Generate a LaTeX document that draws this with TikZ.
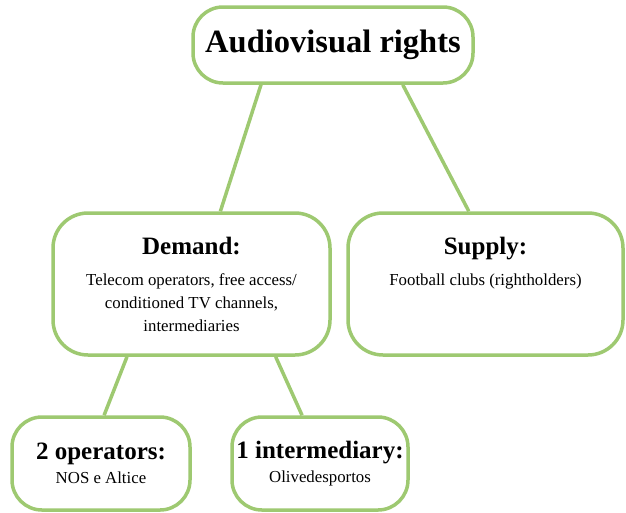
\documentclass[tikz,border=0pt]{standalone}
\usepackage{fontspec}
\setmainfont{Liberation Serif}
\usetikzlibrary{shapes,calc}
\definecolor{boxgreen}{RGB}{158,201,113}
\newcommand{\headtxt}[1]{{\fontsize{25}{28}\selectfont\bfseries #1}}

\begin{document}
\begin{tikzpicture}[x=1pt,y=1pt]
\tikzset{
  box/.style={draw=boxgreen, line width=3.5pt, fill=white, rounded corners=#1,
    align=center, inner sep=0pt, font=\fontsize{16.8}{23}\selectfont},
  link/.style={-, draw=boxgreen, line width=3.5pt}
}
\useasboundingbox (0,0) rectangle (626,-512);

% boxes, sizes in px of the 626x512 picture
\node[box=30pt, minimum width=280pt, minimum height=76pt] (rights) at (333,-45)
  {{\fontsize{32.5}{38}\selectfont\bfseries Audiovisual rights}};
\node[box=35pt, minimum width=277pt, minimum height=142pt] (demand) at (191.5,-284)
  {\headtxt{Demand:}\\[8pt] Telecom operators, free access/\\ conditioned TV channels,\\ intermediaries};
\node[box=35pt, minimum width=275pt, minimum height=142pt] (supply) at (485.5,-284)
  {\headtxt{Supply:}\\[8pt] Football clubs (rightholders)\\ ~\\ ~};
\node[box=30pt, minimum width=178pt, minimum height=93pt] (operators) at (101,-463.5)
  {\headtxt{2 operators:}\\[1pt] NOS e Altice};
\node[box=30pt, minimum width=176pt, minimum height=93pt] (intermed) at (320,-463.5)
  {\headtxt{1 intermediary:}\\[1pt] Olivedesportos};

\draw[link] ($(rights.south west)!0.246!(rights.south east)$) -- ($(demand.north west)!0.603!(demand.north east)$);
\draw[link] ($(rights.south west)!0.746!(rights.south east)$) -- ($(supply.north west)!0.44!(supply.north east)$);
\draw[link] ($(demand.south west)!0.27!(demand.south east)$) -- ($(operators.north west)!0.517!(operators.north east)$);
\draw[link] ($(demand.south west)!0.80!(demand.south east)$) -- ($(intermed.north west)!0.40!(intermed.north east)$);
\end{tikzpicture}
\end{document}
